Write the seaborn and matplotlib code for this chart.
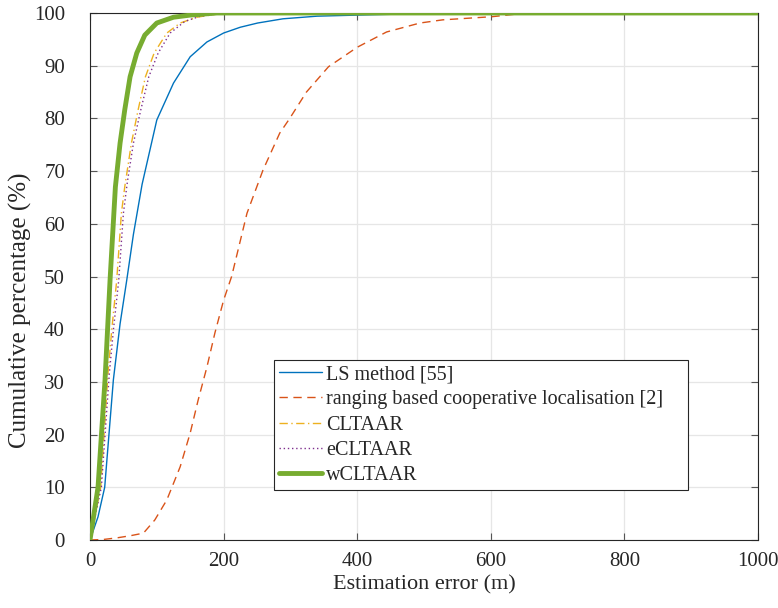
import matplotlib
matplotlib.use("Agg")
import matplotlib.pyplot as plt
import seaborn as sns
import pandas as pd

# ---- data ----
ls_x = [0, 12, 22, 35, 45, 55, 65, 78, 100, 125, 150, 175, 200, 225, 251, 289, 340, 400, 500, 600, 1000]
ls_y = [0, 4.4, 10, 30.4, 41, 49.3, 58, 67.5, 79.7, 86.7, 91.7, 94.5, 96.2, 97.3, 98.1, 98.9, 99.4, 99.6, 99.9, 100, 100]

rb_x = [0, 20, 40, 60, 80, 97, 115, 135, 150, 162, 175, 187, 200, 212, 235, 259, 284, 299, 324,
        357, 400, 444, 494, 528, 602, 639, 680, 1000]
rb_y = [0, 0.1, 0.4, 0.8, 1.3, 3.8, 7.6, 13.9, 20.3, 26.6, 32.8, 39.3, 45.5, 50, 62, 70.2, 77.2, 80, 85,
        89.8, 93.5, 96.4, 98.1, 98.7, 99.3, 99.8, 100, 100]

cl_x = [0, 16, 27, 32.5, 40, 47, 52, 62, 72, 83, 96, 115, 135, 160, 200, 1000]
cl_y = [0, 10, 31.7, 39.8, 49.3, 62, 67, 75.3, 81.6, 87.9, 92.4, 96.2, 98.1, 99.2, 100, 100]

ecl_x = [0, 17, 29, 35, 43, 50, 56, 65, 76, 88, 102, 120, 142, 165, 200, 1000]
ecl_y = [0, 10, 31.7, 39.8, 49.3, 62, 68, 75.3, 81.6, 87.9, 92.4, 96.2, 98.4, 99.4, 100, 100]

wcl_x = [0, 12, 22.5, 30, 38, 45, 52, 60, 70, 82, 100, 125, 150, 190, 1000]
wcl_y = [0, 10, 30.4, 49.3, 67, 75.3, 81.6, 87.9, 92.4, 95.8, 98.1, 99.2, 99.6, 100, 100]

labels = ["LS method [55]", "ranging based cooperative localisation [2]",
          "CLTAAR", "eCLTAAR", "wCLTAAR"]
xticks = [0, 200, 400, 600, 800, 1000]
yticks = [0, 10, 20, 30, 40, 50, 60, 70, 80, 90, 100]

# ---- styling ----
sns.set_style("ticks")
plt.rcParams["font.family"] = ["Liberation Serif", "DejaVu Serif"]
plt.rcParams["mathtext.fontset"] = "stix"

fig = plt.figure(figsize=(7.78, 6.08), dpi=100)
ax = fig.add_axes([90 / 778, 68 / 608, 668 / 778, 527 / 608])

series = [
    (ls_x, ls_y, labels[0], "#0072BD", "-", 1.0),
    (rb_x, rb_y, labels[1], "#D95319", (0, (6, 4)), 1.0),
    (cl_x, cl_y, labels[2], "#EDB120", (0, (6, 2.5, 1, 2.5)), 1.0),
    (ecl_x, ecl_y, labels[3], "#7E2F8E", (0, (1, 2)), 1.0),
    (wcl_x, wcl_y, labels[4], "#77AC30", "-", 3.5),
]
for xs, ys, lab, col, ls, lw in series:
    df = pd.DataFrame({"x": xs, "y": ys})
    sns.lineplot(data=df, x="x", y="y", ax=ax, color=col, linestyle=ls,
                 linewidth=lw, label=lab, sort=False, estimator=None, zorder=3)

ax.set_xlim(0, 1000)
ax.set_ylim(0, 100)
ax.set_xticks(xticks)
ax.set_yticks(yticks)
ax.grid(True, color="#E6E6E6", linewidth=0.9, zorder=0)
ax.set_axisbelow(True)
ax.tick_params(direction="in", length=5, width=0.8, color="#555555",
               labelsize=15, labelcolor="#262626", top=True, right=True)
ax.tick_params(axis="x", pad=9)
ax.tick_params(axis="y", pad=18)
for s in ax.spines.values():
    s.set_color("#262626")
    s.set_linewidth(0.8)

ax.set_xlabel("Estimation error (m)", fontsize=16, color="#262626", labelpad=3)
ax.set_ylabel("Cumulative percentage (%)", fontsize=18, color="#262626")
ax.yaxis.set_label_coords(-0.087, 0.436)

leg = ax.legend(loc="lower left", bbox_to_anchor=(0.275, 0.095, 0.62, 0.254),
                mode="expand", borderaxespad=0,
                fontsize=14.5, handlelength=2.15, handletextpad=0.2,
                labelspacing=0.3, borderpad=0.25, fancybox=False, framealpha=1)
leg.get_frame().set_edgecolor("#262626")
leg.get_frame().set_linewidth(0.8)

fig.savefig("out.png", dpi=100)
